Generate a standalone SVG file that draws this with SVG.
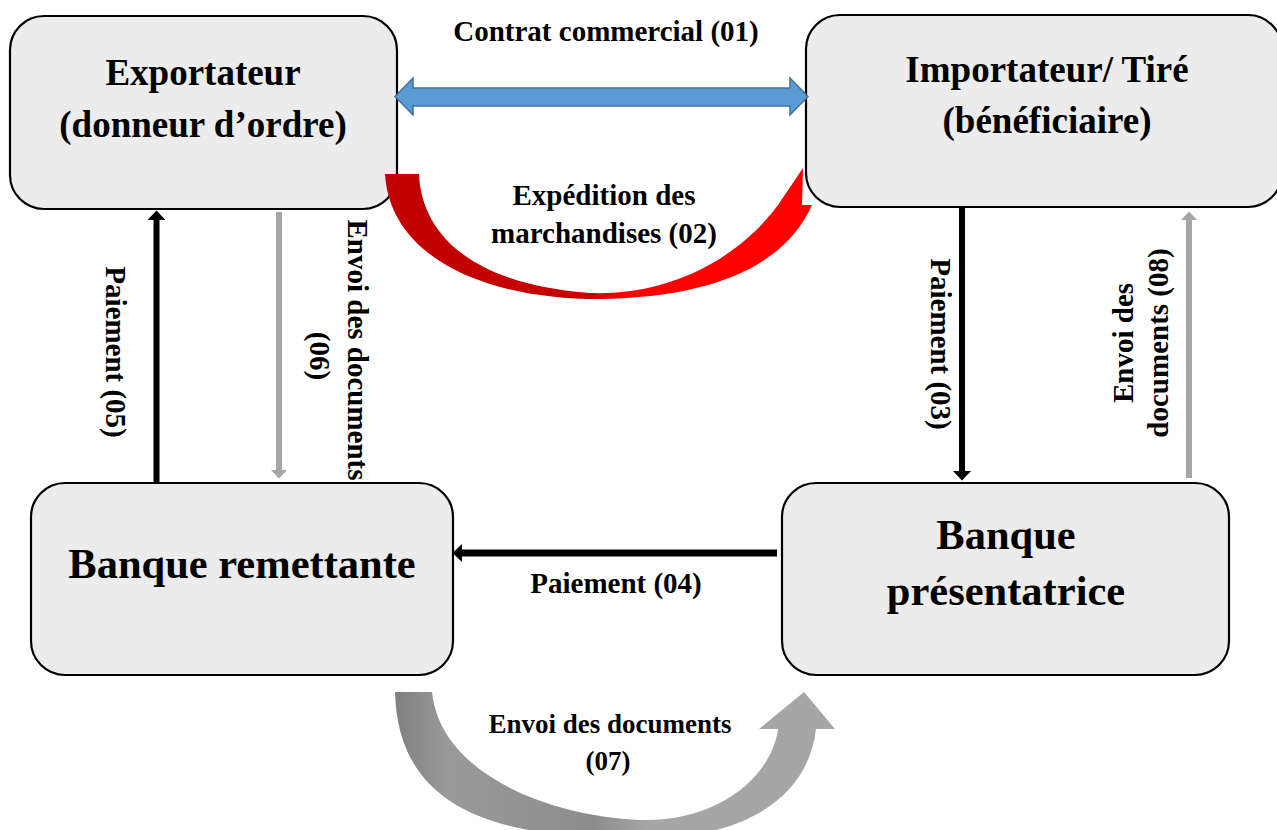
<svg xmlns="http://www.w3.org/2000/svg" width="1277" height="830" viewBox="0 0 1277 830">
<style>
.box{fill:#ECECEC;stroke:#000;stroke-width:2.2}
.t{font-family:"Liberation Serif","Times New Roman",serif;font-weight:bold;fill:#000;text-anchor:middle}
.big{font-size:37px}
.huge{font-size:42.5px}
.lbl{font-size:29px}
.sm{font-size:27px}
.blk{stroke:#000;stroke-width:6;fill:none}
.gry{stroke:#A6A6A6;stroke-width:6;fill:none}
</style>
<defs>
<marker id="hb" markerUnits="userSpaceOnUse" markerWidth="10" markerHeight="18" refX="0" refY="9" orient="auto" overflow="visible">
<path d="M0,0 L9.5,9 L0,18 Z" fill="#000"/>
</marker>
<marker id="hg" markerUnits="userSpaceOnUse" markerWidth="9" markerHeight="16" refX="0" refY="8" orient="auto" overflow="visible">
<path d="M0,0 L8.5,8 L0,16 Z" fill="#A6A6A6"/>
</marker>
<linearGradient id="red" gradientUnits="userSpaceOnUse" x1="385" y1="0" x2="812" y2="0">
<stop offset="0" stop-color="#C00000"/>
<stop offset="0.48" stop-color="#C80000"/>
<stop offset="0.56" stop-color="#FF0000"/>
<stop offset="1" stop-color="#FF0000"/>
</linearGradient>
<linearGradient id="gray" gradientUnits="userSpaceOnUse" x1="395" y1="0" x2="835" y2="0">
<stop offset="0" stop-color="#7F7F7F"/>
<stop offset="0.12" stop-color="#9A9A9A"/>
<stop offset="0.45" stop-color="#8C8C8C"/>
<stop offset="0.58" stop-color="#A6A6A6"/>
<stop offset="1" stop-color="#A6A6A6"/>
</linearGradient>
</defs>

<g id="exportateur">
<rect class="box" x="10" y="16" width="387" height="193" rx="34"/>
<text class="t big" x="203" y="85">Exportateur</text>
<text class="t big" x="203" y="137">(donneur d’ordre)</text>
</g>
<g id="importateur">
<rect class="box" x="806" y="15" width="476" height="192" rx="34"/>
<text class="t big" x="1047" y="82">Importateur/ Tiré</text>
<text class="t big" x="1047" y="133">(bénéficiaire)</text>
</g>
<g id="banque-remettante">
<rect class="box" x="31" y="483" width="422" height="192" rx="34"/>
<text class="t huge" x="242" y="578">Banque remettante</text>
</g>
<g id="banque-presentatrice">
<rect class="box" x="782" y="483" width="447" height="192" rx="34"/>
<text class="t huge" x="1006" y="549">Banque</text>
<text class="t huge" x="1006" y="605">présentatrice</text>
</g>

<g id="connectors">
<polygon points="395,96.5 413,78 413,88 790,88 790,78 808,96.5 790,115 790,106 413,106 413,115" fill="#5B9BD5" stroke="#41719C" stroke-width="1.5"/>
<path d="M385,174 L419,174 C422,240 480,285 590,293 C680,296 745,250 778,205 L803,168 L802,205 L812,205 C785,265 715,297 600,299 C480,299 390,255 385,174 Z" fill="url(#red)"/>
<path d="M395,692 L432,692 C440,770 540,815 640,820 C720,822 772,775 778,729 L759,729 L804,692 L835,729 L816,729 C808,800 740,840 640,838 C480,840 398,800 395,692 Z" fill="url(#gray)"/>
<path class="blk" d="M156.5,483 L156.5,220" marker-end="url(#hb)"/>
<path class="gry" d="M279,212 L279,470" marker-end="url(#hg)"/>
<path class="blk" d="M962,208 L962,471" marker-end="url(#hb)"/>
<path class="gry" d="M1189,478 L1189,220" marker-end="url(#hg)"/>
<path class="blk" style="stroke-width:7" d="M777,553 L462,553" marker-end="url(#hb)"/>

<text class="t lbl" x="606" y="41">Contrat commercial (01)</text>
<text class="t lbl" x="604" y="205">Expédition des</text>
<text class="t lbl" x="604" y="243">marchandises (02)</text>
<text class="t lbl" x="616" y="593">Paiement (04)</text>
<text class="t sm" x="610" y="733">Envoi des documents</text>
<text class="t sm" x="608" y="770">(07)</text>
<text class="t lbl" transform="translate(106,352) rotate(90)">Paiement (05)</text>
<text class="t lbl" transform="translate(348,350) rotate(90)">Envoi des documents</text>
<text class="t lbl" transform="translate(310,356) rotate(90)">(06)</text>
<text class="t lbl" transform="translate(931,344) rotate(90)">Paiement (03)</text>
<text class="t lbl" transform="translate(1133,343) rotate(-90)">Envoi des</text>
<text class="t lbl" transform="translate(1168,343) rotate(-90)">documents (08)</text>
</g>
</svg>
